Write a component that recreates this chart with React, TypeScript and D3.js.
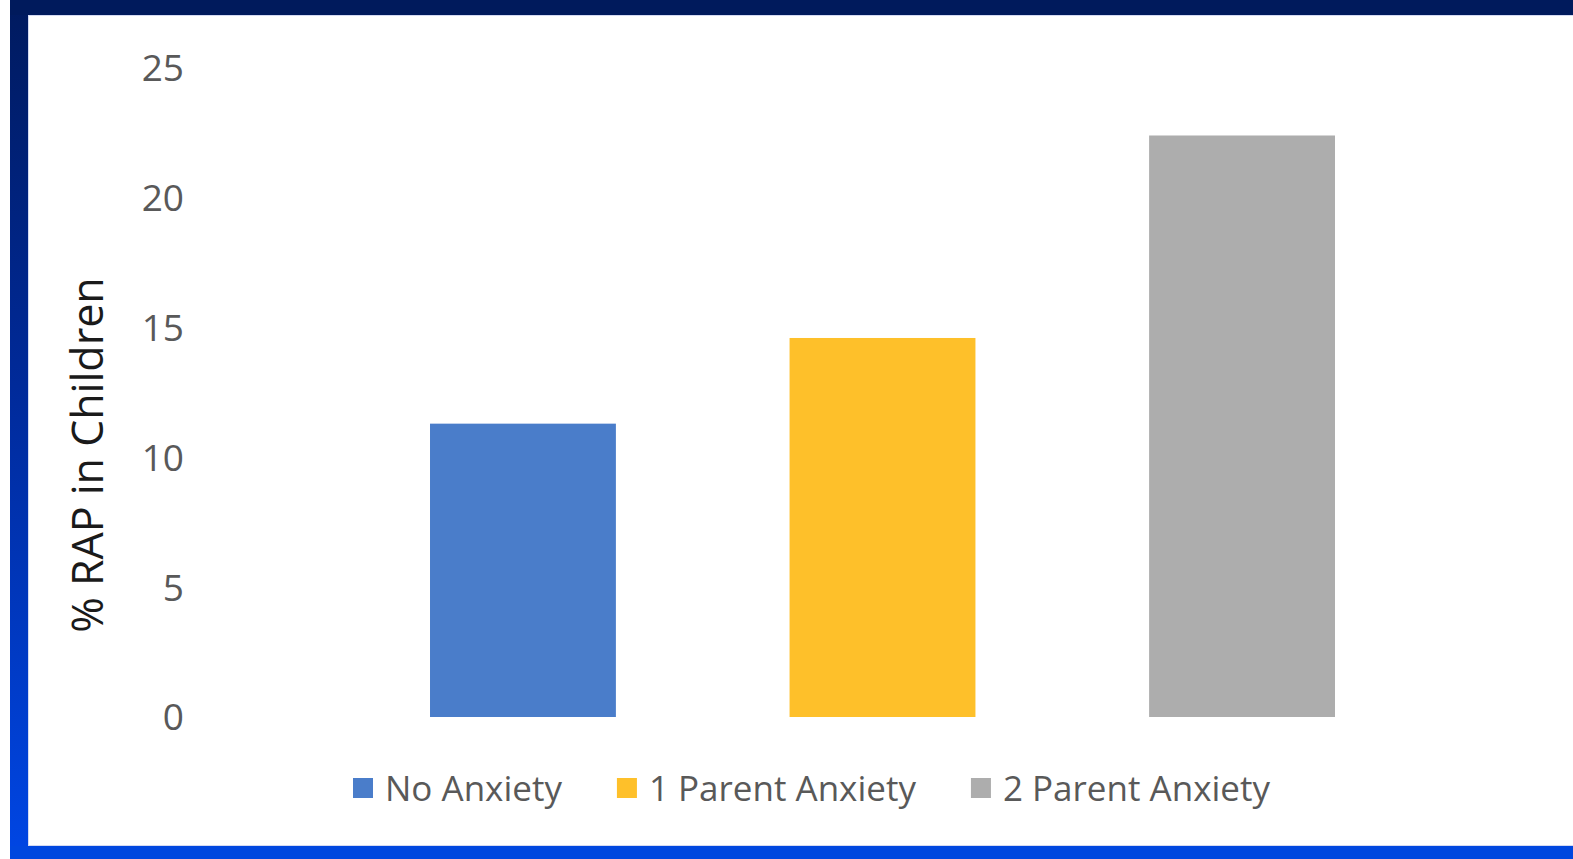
import React, { useEffect, useRef } from "react";
import * as d3 from "d3";

const categories = ["No Anxiety", "1 Parent Anxiety", "2 Parent Anxiety"];
const values = [11.3, 14.6, 22.4];
const colors = ["#4A7DCA", "#FEC02A", "#ADADAD"];
const yTicks = [0, 5, 10, 15, 20, 25];
const yTitle = "% RAP in Children";

const W = 1573;
const H = 859;

export default function App() {
  const ref = useRef<SVGSVGElement | null>(null);

  useEffect(() => {
    const svg = d3.select(ref.current);
    svg.selectAll("*").remove();

    const defs = svg.append("defs");
    const lg = defs
      .append("linearGradient")
      .attr("id", "leftBand")
      .attr("x1", 0)
      .attr("y1", 0)
      .attr("x2", 0)
      .attr("y2", 1);
    lg.append("stop").attr("offset", "0%").attr("stop-color", "#001a5e");
    lg.append("stop").attr("offset", "45%").attr("stop-color", "#002a9a");
    lg.append("stop").attr("offset", "100%").attr("stop-color", "#0046e4");

    // frame
    svg.append("rect").attr("x", 0).attr("y", 0).attr("width", W).attr("height", H).attr("fill", "#ffffff");
    svg.append("rect").attr("x", 10).attr("y", 0).attr("width", 18).attr("height", H).attr("fill", "url(#leftBand)");
    svg.append("rect").attr("x", 10).attr("y", 0).attr("width", W - 10).attr("height", 15).attr("fill", "#001a5c");
    svg.append("rect").attr("x", 10).attr("y", 846).attr("width", W - 10).attr("height", 13).attr("fill", "#0047df");
    svg
      .append("rect")
      .attr("x", 28.5)
      .attr("y", 15.5)
      .attr("width", W - 28)
      .attr("height", 830)
      .attr("fill", "none")
      .attr("stroke", "#d4daf2")
      .attr("stroke-width", 1);

    const y = d3.scaleLinear().domain([0, 25]).range([717, 68]);
    const x = d3
      .scaleBand<string>()
      .domain(categories)
      .range([343, 1422])
      .paddingInner(0.483)
      .paddingOuter(0.242);

    // y tick labels
    svg
      .append("g")
      .selectAll("text")
      .data(yTicks)
      .join("text")
      .attr("x", 184)
      .attr("y", (d) => y(d))
      .attr("dy", "0.36em")
      .attr("text-anchor", "end")
      .attr("font-family", "'Open Sans', sans-serif")
      .attr("font-size", 37)
      .attr("fill", "#595959")
      .text((d) => String(d));

    // y title
    svg
      .append("text")
      .attr("transform", `translate(103, 455) rotate(-90)`)
      .attr("text-anchor", "middle")
      .attr("font-family", "'Open Sans', sans-serif")
      .attr("font-size", 43)
      .attr("fill", "#1a1a1a")
      .text(yTitle);

    // bars
    svg
      .append("g")
      .selectAll("rect")
      .data(categories)
      .join("rect")
      .attr("x", (d) => x(d) as number)
      .attr("width", x.bandwidth())
      .attr("y", (d, i) => y(values[i]))
      .attr("height", (d, i) => y(0) - y(values[i]))
      .attr("fill", (d, i) => colors[i]);

    // legend
    const legend = svg.append("g");
    let cx = 353;
    categories.forEach((c, i) => {
      legend
        .append("rect")
        .attr("x", cx)
        .attr("y", 778)
        .attr("width", 20)
        .attr("height", 20)
        .attr("fill", colors[i]);
      const t = legend
        .append("text")
        .attr("x", cx + 32)
        .attr("y", 801)
        .attr("font-family", "'Open Sans', sans-serif")
        .attr("font-size", 35)
        .attr("fill", "#595959")
        .text(c);
      const w = (t.node() as SVGTextElement).getComputedTextLength();
      cx = cx + 32 + w + 55;
    });
  }, []);

  return (
    <svg
      ref={ref}
      width={W}
      height={H}
      style={{ position: "absolute", left: 0, top: 0, display: "block" }}
    />
  );
}
